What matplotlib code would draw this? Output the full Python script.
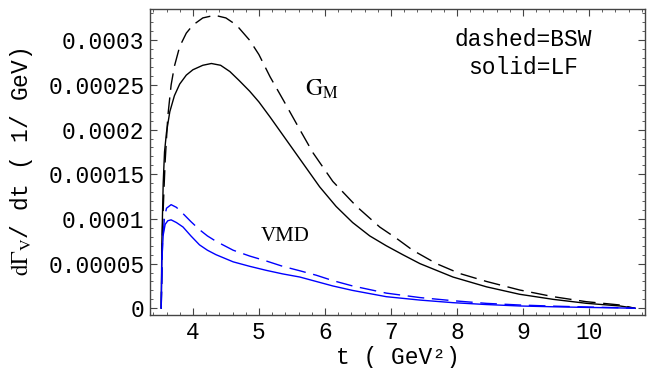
import matplotlib
matplotlib.use("Agg")
import matplotlib.pyplot as plt
from matplotlib.ticker import MultipleLocator, FixedLocator, FixedFormatter

plt.rcParams['mathtext.fontset'] = 'stix'

# данные (значения в единицах 1e-4 1/GeV)
t_bsw_gm = [3.52, 3.54, 3.56, 3.58, 3.62, 3.67, 3.72, 3.80, 3.90, 4.00, 4.15, 4.33,
            4.50, 4.66, 4.86, 5.00, 5.17, 5.37, 5.62, 5.82, 6.12, 6.48, 6.83, 7.09,
            7.33, 7.69, 8.04, 8.45, 8.95, 9.46, 9.96, 10.47, 10.70]
v_bsw_gm = [0, 0.9, 1.3, 1.65, 2.15, 2.5, 2.71, 2.93, 3.08, 3.17, 3.25, 3.28,
            3.25, 3.17, 3.0, 2.84, 2.59, 2.33, 2.0, 1.74, 1.42, 1.14, 0.91, 0.78,
            0.65, 0.50, 0.39, 0.30, 0.205, 0.13, 0.074, 0.037, 0.0]

t_lf_gm = [3.52, 3.53, 3.55, 3.57, 3.60, 3.65, 3.72, 3.80, 3.90, 4.00, 4.15, 4.28,
           4.42, 4.56, 4.70, 4.86, 5.00, 5.17, 5.42, 5.67, 5.92, 6.17, 6.42, 6.68,
           6.93, 7.18, 7.44, 7.94, 8.45, 8.95, 9.46, 9.96, 10.47, 10.70]
v_lf_gm = [0, 0.75, 1.4, 1.75, 1.97, 2.2, 2.38, 2.51, 2.61, 2.67, 2.72, 2.74,
           2.72, 2.65, 2.55, 2.43, 2.31, 2.14, 1.88, 1.62, 1.36, 1.14, 0.96, 0.81,
           0.70, 0.60, 0.50, 0.35, 0.24, 0.157, 0.10, 0.056, 0.026, 0.0]

t_bsw_vmd = [3.52, 3.54, 3.57, 3.60, 3.67, 3.75, 3.85, 3.97, 4.10, 4.22, 4.35, 4.61,
             4.86, 5.11, 5.36, 5.62, 5.87, 6.12, 6.42, 6.93, 7.44, 7.94, 8.45, 8.95,
             9.46, 9.96, 10.47, 10.70]
v_bsw_vmd = [0, 0.75, 1.02, 1.12, 1.16, 1.13, 1.06, 0.97, 0.88, 0.81, 0.75, 0.65,
             0.585, 0.53, 0.47, 0.42, 0.37, 0.31, 0.25, 0.17, 0.12, 0.085, 0.055, 0.037,
             0.024, 0.015, 0.006, 0.0]

t_lf_vmd = [3.52, 3.53, 3.55, 3.58, 3.62, 3.67, 3.75, 3.85, 3.97, 4.10, 4.22, 4.35,
            4.61, 4.86, 5.11, 5.36, 5.62, 5.87, 6.12, 6.42, 6.93, 7.44, 7.94, 8.45,
            8.95, 9.46, 9.96, 10.47, 10.70]
v_lf_vmd = [0, 0.55, 0.82, 0.94, 0.98, 0.99, 0.96, 0.91, 0.81, 0.71, 0.65, 0.60,
            0.52, 0.47, 0.425, 0.385, 0.35, 0.30, 0.25, 0.20, 0.13, 0.092, 0.063, 0.042,
            0.026, 0.017, 0.010, 0.004, 0.0]

scale = 1e-4
y_ticks = [0, 0.00005, 0.0001, 0.00015, 0.0002, 0.00025, 0.0003]
y_labels = ["0", "0.00005", "0.0001", "0.00015", "0.0002", "0.00025", "0.0003"]
x_ticks = [4, 5, 6, 7, 8, 9, 10]

mono = 'Liberation Mono'
serif = 'Liberation Serif'
W, H = 654, 368

fig = plt.figure(figsize=(W/100, H/100), dpi=100)
ax = fig.add_axes([150/W, 1 - 315/H, 495/W, 306/H])

dash = (12, 5.5)
ax.plot(t_bsw_gm, [v*scale for v in v_bsw_gm], color='black', lw=1.0, dashes=dash)
ax.plot(t_lf_gm, [v*scale for v in v_lf_gm], color='black', lw=1.0)
ax.plot(t_bsw_vmd, [v*scale for v in v_bsw_vmd], color='#0000ff', lw=1.0, dashes=dash)
ax.plot(t_lf_vmd, [v*scale for v in v_lf_vmd], color='#0000ff', lw=1.0)

ax.set_xlim(3.35, 10.85)
ax.set_ylim(-0.0000075, 0.000335)

ax.xaxis.set_major_locator(FixedLocator(x_ticks))
ax.xaxis.set_minor_locator(MultipleLocator(0.2))
ax.yaxis.set_major_locator(FixedLocator(y_ticks))
ax.yaxis.set_major_formatter(FixedFormatter(y_labels))
ax.yaxis.set_minor_locator(MultipleLocator(0.00001))

ax.tick_params(which='both', direction='in', top=True, right=True, color='#444444')
ax.tick_params(which='major', length=5, width=0.8, labelsize=16.5, pad=4)
ax.tick_params(which='minor', length=2.5, width=0.6)
for lab in ax.get_xticklabels() + ax.get_yticklabels():
    lab.set_fontfamily(mono)
for s in ax.spines.values():
    s.set_color('#444444')
    s.set_linewidth(1.0)

ax.set_xlabel("t ( GeV²)", fontfamily=mono, fontsize=16.5)
ax.xaxis.set_label_coords(0.5, -0.10)
ax.set_ylabel(r"$\mathrm{d}\Gamma_{\mathrm{V}}$/ dt ( 1/ GeV)", fontfamily=mono, fontsize=16.5)
ax.yaxis.set_label_coords(-0.233, 0.5)

fig.text(523/W, 1 - 40/H, "dashed=BSW", fontsize=16.5, fontfamily=mono,
         ha='center', va='center')
fig.text(523/W, 1 - 67/H, "solid=LF", fontsize=16.5, fontfamily=mono,
         ha='center', va='center')

# подписи кривых
ax.text(5.95, 0.000245, r"$\mathrm{G}_{\mathrm{M}}$", fontsize=17, ha='center', va='center')
ax.text(5.4, 0.0000805, "VMD", fontsize=15, fontfamily=serif, ha='center', va='center')

fig.savefig("out.png", dpi=100)
